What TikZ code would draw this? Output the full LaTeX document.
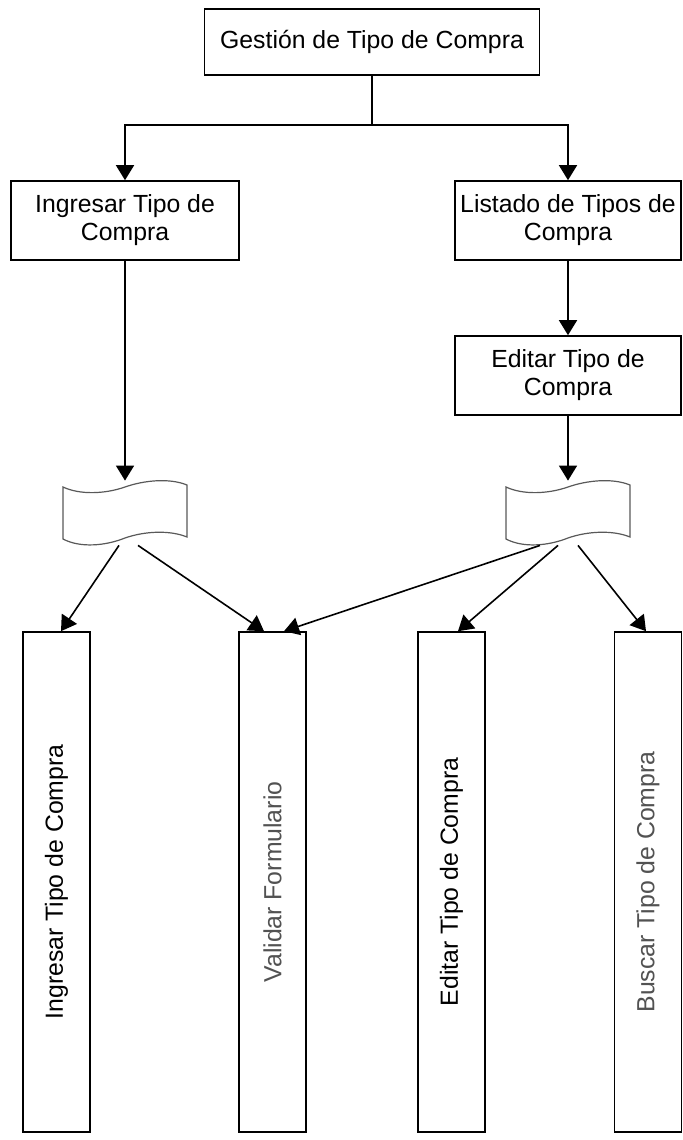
\documentclass[tikz,border=0pt]{standalone}
\usepackage{fontspec}
\setmainfont{Liberation Sans}
\usetikzlibrary{arrows.meta}

\tikzset{
  procbox/.style={draw, line width=0.8pt, fill=white, align=center, inner sep=2pt,
    font=\fontsize{12.4}{14}\selectfont},
  formbox/.style={procbox, minimum width=33.5pt, minimum height=250pt},
  flowline/.style={line width=0.8pt},
  flowarrow/.style={flowline, -{Triangle[length=7.5pt,width=9pt]}},
  tapebox/.style={minimum width=62pt, minimum height=32pt, inner sep=0pt},
  tapeline/.style={draw=black!65, fill=white, line width=0.6pt},
}

\begin{document}
\begin{tikzpicture}[x=0.5pt, y=-0.5pt]
\useasboundingbox (0,0) rectangle (683,1140);

% Main process
\node[procbox, minimum width=167.5pt, minimum height=33pt] (gestion) at (372,42) {Gestión de Tipo de Compra};

% Second level
\node[procbox, minimum width=114pt, minimum height=39.5pt] (ingresar) at (125,220.5) {Ingresar Tipo de\\Compra};
\node[procbox, minimum width=113pt, minimum height=39.5pt] (listado) at (568,220.5) {Listado de Tipos de\\Compra};
\node[procbox, minimum width=113pt, minimum height=39.5pt] (editar) at (568,375.5) {Editar Tipo de\\Compra};

% Split from main process
\coordinate (split) at (372,125);
\draw[flowline] (gestion.south) -- (split);
\draw[flowarrow] (split) -| (ingresar.north);
\draw[flowarrow] (split) -| (listado.north);
\draw[flowarrow] (listado.south) -- (editar.north);

% Forms (tape shapes)
\node[tapebox] (docIngresar) at (125,513) {};
\node[tapebox] (docEditar) at (568,513) {};
\foreach \d in {docIngresar, docEditar} {
  \begin{scope}[shift={(\d.center)}]
    \draw[tapeline] (-62,-26) .. controls (-45,-18) and (-20,-19) .. (0,-26)
      .. controls (20,-33) and (45,-35) .. (62,-28) -- (62,24)
      .. controls (45,17) and (20,18) .. (0,25)
      .. controls (-20,33) and (-45,35) .. (-62,26) -- cycle;
  \end{scope}
}
\draw[flowarrow] (ingresar.south) -- (docIngresar.north);
\draw[flowarrow] (editar.south) -- (docEditar.north);

% Bottom level (vertical boxes)
\node[formbox] (ingresarForm) at (56.5,882) {\rotatebox{90}{Ingresar Tipo de Compra}};
\node[formbox, text=black!68] (validar) at (272.5,882) {\rotatebox{90}{Validar Formulario}};
\node[formbox] (editarForm) at (451.5,882) {\rotatebox{90}{Editar Tipo de Compra}};
\node[formbox, text=black!68] (buscar) at (648,882) {\rotatebox{90}{Buscar Tipo de Compra}};

% Connections from forms
\draw[flowarrow] ([xshift=-3pt]docIngresar.south) -- ([xshift=2.25pt]ingresarForm.north);
\draw[flowarrow] ([xshift=6.5pt]docIngresar.south) -- ([xshift=-4.25pt]validar.north);
\draw[flowarrow] ([xshift=-14pt]docEditar.south) -- ([xshift=5.75pt]validar.north);
\draw[flowarrow] ([xshift=-5pt]docEditar.south) -- ([xshift=3.25pt]editarForm.north);
\draw[flowarrow] ([xshift=5pt]docEditar.south) -- ([xshift=-1pt]buscar.north);

\end{tikzpicture}
\end{document}
